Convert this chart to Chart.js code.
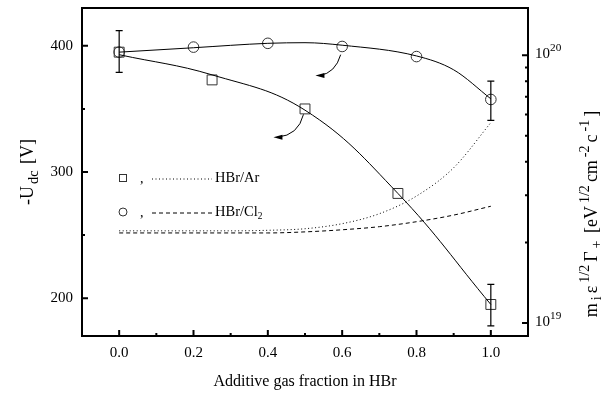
<!DOCTYPE html>
<html><head><meta charset="utf-8">
<script src="https://cdn.jsdelivr.net/npm/chart.js@4"></script>
<style>html,body{margin:0;padding:0;background:#fff}#wrap{width:613px;height:393px}canvas{display:block}</style>
</head><body><div id="wrap"><canvas id="c"></canvas></div>
<script>
// ---- data ----
const arX = [0, 0.25, 0.5, 0.75, 1.0];                 // HBr/Ar  (squares)
const arUdc = [395, 373, 350, 283, 195];
const cl2X = [0, 0.2, 0.4, 0.6, 0.8, 1.0];             // HBr/Cl2 (circles)
const cl2Udc = [395, 399, 402, 399.5, 391.5, 357.5];
const errX = [0, 1.0, 1.0];
const errLo = [379, 178, 341];
const errHi = [412, 211, 372];
const arFitX = [0, 0.25, 0.5, 0.75, 1.0];
const arFitY = [393, 377, 349, 283, 195];
const cl2FitX = [0, 0.2, 0.4, 0.5, 0.6, 0.8, 0.9, 1.0];
const cl2FitY = [395, 398.5, 402, 402.5, 400.5, 392, 381, 358];
const fluxX = [0, 0.1, 0.2, 0.3, 0.4, 0.5, 0.6, 0.7, 0.8, 0.9, 1.0];
const arFlux = [2.21e19, 2.21e19, 2.21e19, 2.21e19, 2.22e19, 2.25e19, 2.35e19, 2.56e19, 2.98e19, 3.8e19, 5.6e19];
const cl2Flux = [2.17e19, 2.17e19, 2.17e19, 2.17e19, 2.17e19, 2.19e19, 2.23e19, 2.29e19, 2.39e19, 2.53e19, 2.73e19];
const xMajor = [0, 0.2, 0.4, 0.6, 0.8, 1.0];
const xMajorLabels = ['0.0', '0.2', '0.4', '0.6', '0.8', '1.0'];
const xMinor = [0.1, 0.3, 0.5, 0.7, 0.9];
const yMajor = [200, 300, 400];
const yMinor = [250, 350];
const y2Major = [1e19, 1e20];
const y2MajorExp = ['19', '20'];
const y2Minor = [2e19, 3e19, 4e19, 5e19, 6e19, 7e19, 8e19, 9e19];
// arrows (data coords): start, control, end
const arrows = [
  {s: [0.596, 393], c: [0.582, 378.5], e: [0.528, 376.4]},
  {s: [0.496, 345.7], c: [0.482, 329], e: [0.415, 327.6]}
];

const pts = (xs, ys) => xs.map((x, i) => ({x, y: ys[i]}));
const FONT = '"Liberation Serif", "DejaVu Serif", serif';

function partSize(p, size, ratio) { return p.k ? size * ratio : size; }
function richWidth(ctx, parts, size, ratio, gap) {
  let w = 0;
  parts.forEach((p, i) => {
    ctx.font = partSize(p, size, ratio) + 'px ' + FONT;
    w += ctx.measureText(p.t).width + (i ? gap : 0);
  });
  return w;
}
function drawRich(ctx, parts, size, x, y, rot, align, ratio = 0.65, gap = 0) {
  ctx.save();
  ctx.translate(x, y);
  ctx.rotate(rot);
  const w = richWidth(ctx, parts, size, ratio, gap);
  let cx = align === 'left' ? 0 : -w / 2;
  ctx.textBaseline = 'middle';
  ctx.textAlign = 'left';
  ctx.fillStyle = '#000';
  parts.forEach((p, i) => {
    if (i) cx += gap;
    ctx.font = partSize(p, size, ratio) + 'px ' + FONT;
    let dy = 0;
    if (p.k === 'sub') dy = size * 0.32;
    if (p.k === 'sup') dy = -size * 0.38;
    ctx.fillText(p.t, cx, dy);
    cx += ctx.measureText(p.t).width;
  });
  ctx.restore();
}

const deco = {
  id: 'deco',
  afterDatasetsDraw(chart) {
    const ctx = chart.ctx, a = chart.chartArea;
    const sx = chart.scales.x, sy = chart.scales.y, s2 = chart.scales.y2;
    ctx.save();
    ctx.strokeStyle = '#000';
    ctx.fillStyle = '#000';
    // error bars
    ctx.lineWidth = 1.2;
    errX.forEach((x, i) => {
      const px = sx.getPixelForValue(x);
      const p1 = sy.getPixelForValue(errLo[i]), p2 = sy.getPixelForValue(errHi[i]);
      ctx.beginPath();
      ctx.moveTo(px, p1); ctx.lineTo(px, p2);
      ctx.moveTo(px - 3.5, p1); ctx.lineTo(px + 3.5, p1);
      ctx.moveTo(px - 3.5, p2); ctx.lineTo(px + 3.5, p2);
      ctx.stroke();
    });
    // arrows
    ctx.lineWidth = 1;
    arrows.forEach(ar => {
      const P = q => [sx.getPixelForValue(q[0]), sy.getPixelForValue(q[1])];
      const s = P(ar.s), c = P(ar.c), e = P(ar.e);
      ctx.beginPath();
      ctx.moveTo(s[0], s[1]);
      ctx.quadraticCurveTo(c[0], c[1], e[0] + 4, e[1]);
      ctx.stroke();
      ctx.beginPath();
      ctx.moveTo(e[0], e[1]);
      ctx.lineTo(e[0] + 9, e[1] - 2.5);
      ctx.lineTo(e[0] + 9, e[1] + 2.5);
      ctx.closePath();
      ctx.fill();
    });
    // frame
    ctx.lineWidth = 2;
    ctx.strokeRect(a.left, a.top, a.right - a.left, a.bottom - a.top);
    // ticks
    ctx.beginPath();
    xMajor.forEach(v => { const p = sx.getPixelForValue(v); ctx.moveTo(p, a.bottom); ctx.lineTo(p, a.bottom - 6); });
    xMinor.forEach(v => { const p = sx.getPixelForValue(v); ctx.moveTo(p, a.bottom); ctx.lineTo(p, a.bottom - 3); });
    yMajor.forEach(v => { const p = sy.getPixelForValue(v); ctx.moveTo(a.left, p); ctx.lineTo(a.left + 6, p); });
    yMinor.forEach(v => { const p = sy.getPixelForValue(v); ctx.moveTo(a.left, p); ctx.lineTo(a.left + 3, p); });
    y2Major.forEach(v => { const p = s2.getPixelForValue(v); ctx.moveTo(a.right, p); ctx.lineTo(a.right - 6, p); });
    y2Minor.forEach(v => { const p = s2.getPixelForValue(v); ctx.moveTo(a.right, p); ctx.lineTo(a.right - 3, p); });
    ctx.stroke();
    // tick labels
    ctx.font = '15px ' + FONT;
    ctx.textBaseline = 'middle';
    ctx.textAlign = 'center';
    xMajor.forEach((v, i) => ctx.fillText(xMajorLabels[i], sx.getPixelForValue(v), a.bottom + 17));
    ctx.textAlign = 'right';
    yMajor.forEach(v => ctx.fillText(String(v), a.left - 9, sy.getPixelForValue(v)));
    y2Major.forEach((v, i) => drawRich(ctx, [{t: '10'}, {t: y2MajorExp[i], k: 'sup'}], 15, a.right + 7, s2.getPixelForValue(v) - 1, 0, 'left', 0.75));
    // axis titles
    drawRich(ctx, [{t: 'Additive gas fraction in HBr'}], 16, (a.left + a.right) / 2, 382, 0);
    drawRich(ctx, [{t: '-U'}, {t: 'dc', k: 'sub'}, {t: ' [V]'}], 18, 28, 172, -Math.PI / 2, 'center', 0.8, 2);
    drawRich(ctx, [{t: 'm'}, {t: 'i', k: 'sub'}, {t: 'ε'}, {t: '1/2', k: 'sup'}, {t: 'Γ'}, {t: '+', k: 'sub'}, {t: ' [eV'}, {t: '1/2', k: 'sup'}, {t: 'cm'}, {t: '-2', k: 'sup'}, {t: 'c'}, {t: '-1', k: 'sup'}, {t: ']'}], 18, 592, 214, -Math.PI / 2, 'center', 0.78, 3);
    // legend
    const rows = [
      {y: 178, mark: 'sq', dash: [1, 2.5], label: [{t: 'HBr/Ar'}]},
      {y: 212, mark: 'ci', dash: [4, 3], label: [{t: 'HBr/Cl'}, {t: '2', k: 'sub'}]}
    ];
    rows.forEach(r => {
      ctx.lineWidth = 1;
      ctx.strokeStyle = '#333';
      ctx.setLineDash([]);
      if (r.mark === 'sq') ctx.strokeRect(119.5, r.y - 3.5, 7, 7);
      else { ctx.beginPath(); ctx.arc(123, r.y, 4, 0, Math.PI * 2); ctx.stroke(); }
      ctx.fillStyle = '#000';
      ctx.font = '14px ' + FONT;
      ctx.textAlign = 'left';
      ctx.fillText(',', 140, r.y + 1);
      ctx.strokeStyle = '#000';
      ctx.setLineDash(r.dash);
      ctx.beginPath(); ctx.moveTo(152, r.y + 1); ctx.lineTo(212, r.y + 1); ctx.stroke();
      ctx.setLineDash([]);
      drawRich(ctx, r.label, 14.5, 215, r.y, 0, 'left');
    });
    ctx.restore();
  }
};

new Chart(document.getElementById('c'), {
  type: 'scatter',
  data: {
    datasets: [
      {data: pts(arFitX, arFitY), yAxisID: 'y', showLine: true, borderColor: '#000', borderWidth: 1, pointRadius: 0, tension: 0.4},
      {data: pts(cl2FitX, cl2FitY), yAxisID: 'y', showLine: true, borderColor: '#000', borderWidth: 1, pointRadius: 0, cubicInterpolationMode: 'monotone'},
      {data: pts(fluxX, arFlux), yAxisID: 'y2', showLine: true, borderColor: '#000', borderWidth: 1, borderDash: [1, 2.5], pointRadius: 0, cubicInterpolationMode: 'monotone'},
      {data: pts(fluxX, cl2Flux), yAxisID: 'y2', showLine: true, borderColor: '#000', borderWidth: 1, borderDash: [4, 3], pointRadius: 0, cubicInterpolationMode: 'monotone'},
      {data: pts(arX, arUdc), yAxisID: 'y', showLine: false, pointStyle: 'rect', pointRadius: 7, borderColor: '#333', borderWidth: 1, backgroundColor: 'rgba(0,0,0,0)'},
      {data: pts(cl2X, cl2Udc), yAxisID: 'y', showLine: false, pointStyle: 'circle', pointRadius: 5.3, borderColor: '#333', borderWidth: 1, backgroundColor: 'rgba(0,0,0,0)'}
    ]
  },
  options: {
    responsive: true, maintainAspectRatio: false, animation: false,
    layout: {padding: {left: 82, right: 85, top: 5, bottom: 57}},
    plugins: {legend: {display: false}, tooltip: {enabled: false}},
    scales: {
      x: {type: 'linear', min: -0.1, max: 1.1, display: false},
      y: {type: 'linear', min: 170, max: 430, display: false},
      y2: {type: 'logarithmic', min: 8.95e18, max: 1.5e20, display: false}
    }
  },
  plugins: [deco]
});
</script>
</body></html>
